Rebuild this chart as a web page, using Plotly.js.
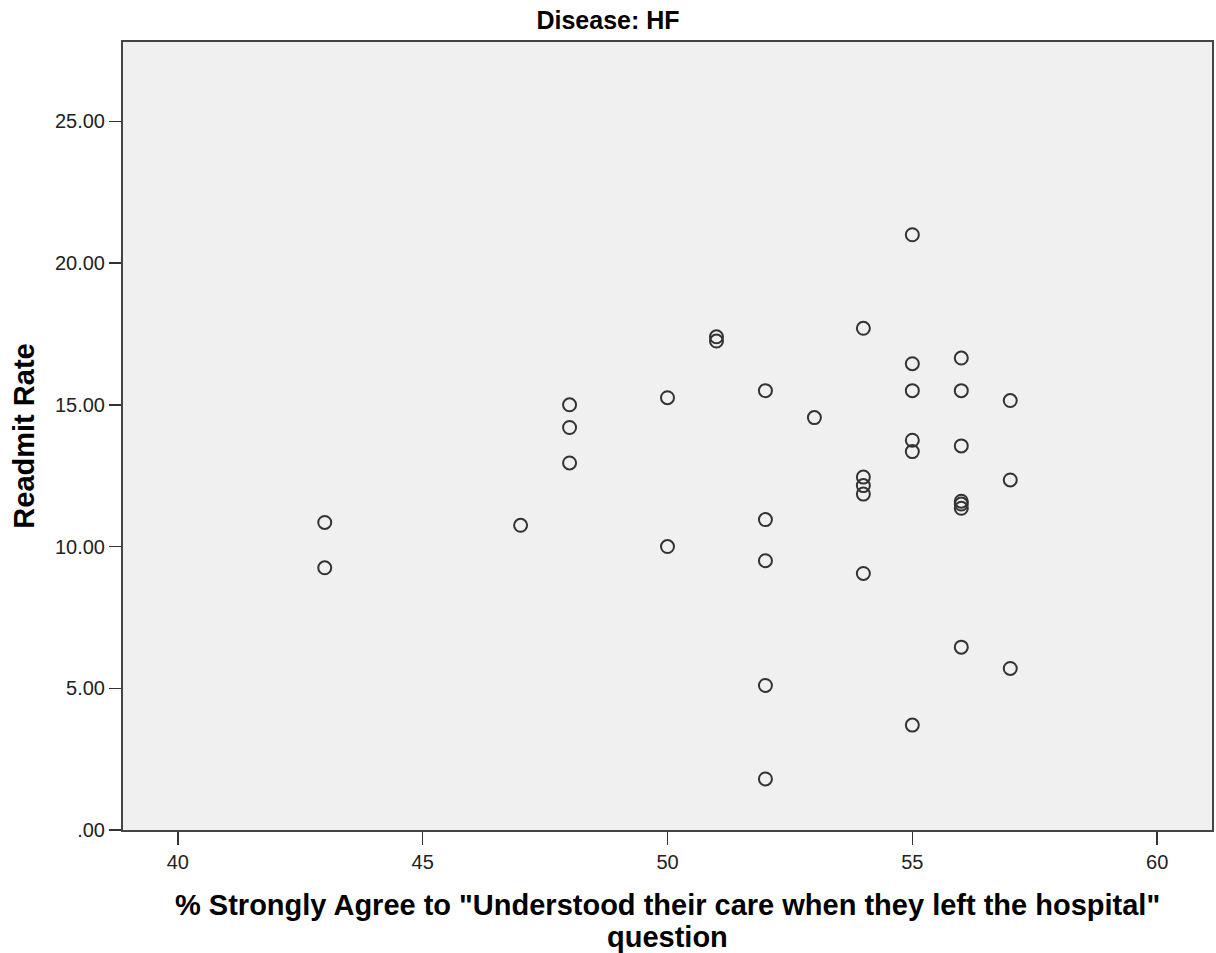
<!DOCTYPE html>
<html>
<head>
<meta charset="utf-8">
<script src="https://cdn.plot.ly/plotly-3.0.1.min.js"></script>
<style>html,body{margin:0;padding:0;background:#fff;}#chart{width:1216px;height:953px;}</style>
</head>
<body>
<div id="chart"></div>
<script>
const pctStronglyAgree = [43, 43, 47, 48, 48, 48, 50, 50, 51, 51, 52, 52, 52, 52, 52, 53, 54, 54, 54, 54, 54, 55, 55, 55, 55, 55, 55, 56, 56, 56, 56, 56, 56, 56, 57, 57, 57];
const readmitRate = [10.85, 9.25, 10.75, 15.0, 14.2, 12.95, 15.25, 10.0, 17.4, 17.25, 15.5, 10.95, 9.5, 5.1, 1.8, 14.55, 17.7, 12.45, 12.15, 11.85, 9.05, 21.0, 16.45, 15.5, 13.75, 13.35, 3.7, 16.65, 15.5, 13.55, 11.6, 11.5, 11.35, 6.45, 15.15, 12.35, 5.7];
const xTickVals = [40, 45, 50, 55, 60];
const yTickVals = [0, 5, 10, 15, 20, 25];
const yTickText = [".00", "5.00", "10.00", "15.00", "20.00", "25.00"];
const xTitleLines = ['% Strongly Agree to "Understood their care when they left the hospital"', 'question'];

const trace = {
  x: pctStronglyAgree,
  y: readmitRate,
  type: 'scatter',
  mode: 'markers',
  marker: {symbol: 'circle-open', size: 13, color: '#333333', line: {width: 2, color: '#333333'}},
  hoverinfo: 'x+y'
};

const layout = {
  width: 1216, height: 953,
  paper_bgcolor: '#ffffff',
  plot_bgcolor: '#f0f0f0',
  margin: {l: 123, r: 4, t: 42, b: 123},
  showlegend: false,
  font: {family: 'Liberation Sans, Arial, sans-serif', color: '#000'},
  title: {text: '<b>Disease: HF</b>', x: 0.5, xanchor: 'center', y: 0.979, yanchor: 'middle', font: {size: 25, color: '#000'}},
  xaxis: {
    range: [38.88, 61.12],
    tickvals: xTickVals,
    ticktext: xTickVals.map(String),
    ticks: 'outside', ticklen: 13, tickwidth: 1.5, tickcolor: '#333',
    showgrid: false, zeroline: false,
    showline: true, linecolor: '#444', linewidth: 2, mirror: true,
    tickfont: {size: 20, color: '#222'}
  },
  yaxis: {
    range: [0, 27.8],
    tickvals: yTickVals,
    ticktext: yTickText,
    ticks: 'outside', ticklen: 12, tickwidth: 1.5, tickcolor: '#333',
    showgrid: false, zeroline: false,
    showline: true, linecolor: '#444', linewidth: 2, mirror: true,
    tickfont: {size: 20, color: '#222'},
    title: {text: '<b>Readmit Rate</b>', font: {size: 29, color: '#000'}, standoff: 12}
  },
  annotations: xTitleLines.map((t, i) => ({
    text: '<b>' + t + '</b>',
    xref: 'paper', yref: 'paper', x: 0.5, y: 0,
    xanchor: 'center', yanchor: 'middle',
    yshift: -75 - 32 * i,
    showarrow: false,
    font: {size: 29, color: '#000'}
  }))
};

Plotly.newPlot('chart', [trace], layout, {displayModeBar: false, staticPlot: true});
</script>
</body>
</html>
